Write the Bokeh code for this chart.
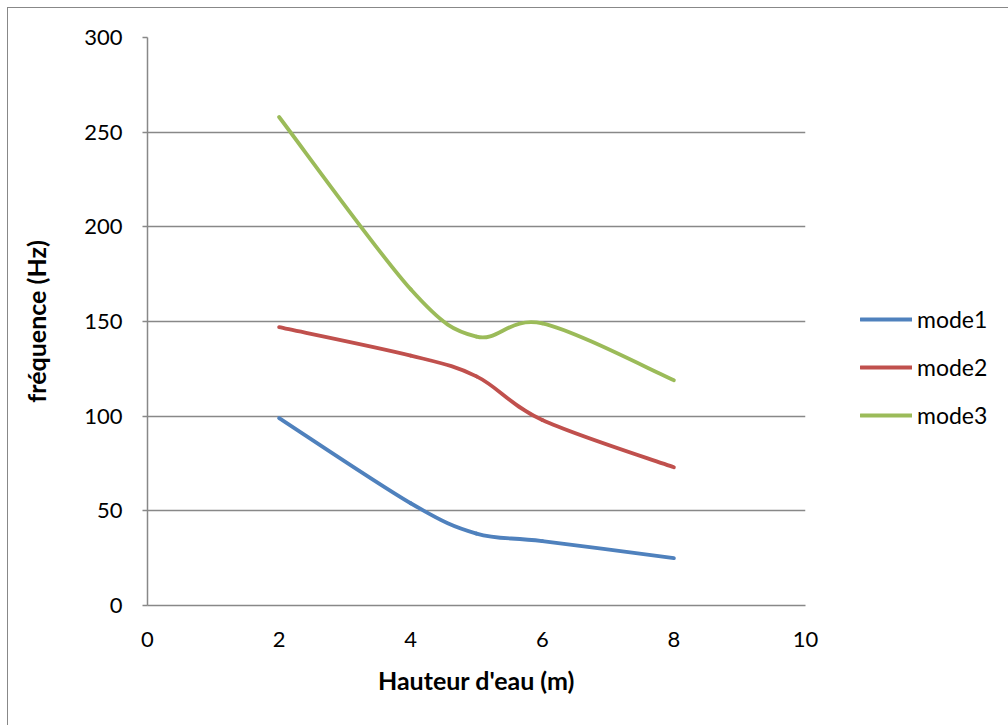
from bokeh.plotting import figure
from bokeh.models import (Legend, LegendItem, FixedTicker, Range1d, InlineStyleSheet)
from bokeh.embed import file_html
from bokeh.resources import INLINE

# Data
hauteur = [2, 4, 5, 6, 8]
mode1 = [99, 54, 38, 34, 25]
mode2 = [147, 132, 121, 98, 73]
mode3 = [258, 167, 142, 149, 119]
series_names = ["mode1", "mode2", "mode3"]
series_colors = ["#4F81BD", "#C0504D", "#9BBB59"]
x_ticks = [0, 2, 4, 6, 8, 10]
y_ticks = [0, 50, 100, 150, 200, 250, 300]

FONT = "Lato"
GRID = "#888888"

p = figure(frame_width=658, frame_height=568,
           output_backend="svg", toolbar_location=None,
           x_range=Range1d(0, 10), y_range=Range1d(0, 300),
           min_border_left=147, min_border_right=0,
           min_border_top=37, min_border_bottom=120)
p.outline_line_color = None
p.background_fill_color = "white"
p.border_fill_color = "white"


def smooth_segments(xs, ys):
    """Excel-like smoothed line: cubic Bezier segments through the data points."""
    n = len(xs)
    x0s, y0s, x1s, y1s, cx0, cy0, cx1, cy1 = [], [], [], [], [], [], [], []
    for i in range(n - 1):
        pm = i - 1 if i > 0 else i
        pp = i + 2 if i + 2 < n else i + 1
        x0s.append(xs[i]); y0s.append(ys[i])
        x1s.append(xs[i + 1]); y1s.append(ys[i + 1])
        cx0.append(xs[i] + (xs[i + 1] - xs[pm]) / 6.0)
        cy0.append(ys[i] + (ys[i + 1] - ys[pm]) / 6.0)
        cx1.append(xs[i + 1] - (xs[pp] - xs[i]) / 6.0)
        cy1.append(ys[i + 1] - (ys[pp] - ys[i]) / 6.0)
    return dict(x0=x0s, y0=y0s, x1=x1s, y1=y1s, cx0=cx0, cy0=cy0, cx1=cx1, cy1=cy1)


items = []
for name, ys, col in zip(series_names, [mode1, mode2, mode3], series_colors):
    seg = smooth_segments(hauteur, ys)
    r = p.bezier(source=seg, x0="x0", y0="y0", x1="x1", y1="y1",
                 cx0="cx0", cy0="cy0", cx1="cx1", cy1="cy1",
                 line_color=col, line_width=3.8, line_cap="round")
    items.append(LegendItem(label=name, renderers=[r]))

legend = Legend(items=items, location=(55, 176), orientation="vertical",
                glyph_width=52, glyph_height=20, label_height=20,
                label_standoff=5, spacing=20, padding=0, margin=0,
                border_line_color=None, background_fill_alpha=0,
                label_text_font=FONT, label_text_font_size="23px",
                label_text_color="#000000")
p.add_layout(legend, "right")

# axes
p.xaxis.ticker = FixedTicker(ticks=x_ticks)
p.yaxis.ticker = FixedTicker(ticks=y_ticks)
for ax in (p.xaxis[0], p.yaxis[0]):
    ax.axis_line_color = GRID
    ax.axis_line_width = 1.5
    ax.major_tick_line_color = GRID
    ax.major_tick_line_width = 1.5
    ax.minor_tick_line_color = None
    ax.major_label_text_font = FONT
    ax.major_label_text_font_size = "22px"
    ax.major_label_text_color = "#000000"
    ax.axis_label_text_font = FONT
    ax.axis_label_text_font_style = "bold"
    ax.axis_label_text_font_size = "25px"
    ax.axis_label_text_color = "#000000"

p.xaxis.major_tick_out = 0
p.xaxis.major_tick_in = 0
p.xaxis.major_label_standoff = 26
p.xaxis.axis_label = "Hauteur d'eau (m)"
p.xaxis.axis_label_standoff = 15

p.yaxis.major_tick_out = 5
p.yaxis.major_tick_in = 0
p.yaxis.major_label_standoff = 20
p.yaxis.axis_label = "fréquence (Hz)"
p.yaxis.axis_label_standoff = 30

p.xgrid.grid_line_color = None
p.ygrid.grid_line_color = GRID
p.ygrid.grid_line_width = 1.5

# outer chart border (top and left edges; right/bottom fall outside the window)
p.stylesheets = [InlineStyleSheet(css="""
:host { position: relative; }
:host::before {
  content: ""; position: absolute; left: 7px; top: 7px; width: 1001px; height: 0px;
  border-top: 1.5px solid #888888; pointer-events: none; z-index: 10;
}
:host::after {
  content: ""; position: absolute; left: 7px; top: 7px; height: 718px; width: 0px;
  border-left: 1.5px solid #888888; pointer-events: none; z-index: 10;
}
""")]

open("out.html", "w").write(file_html(p, INLINE))
